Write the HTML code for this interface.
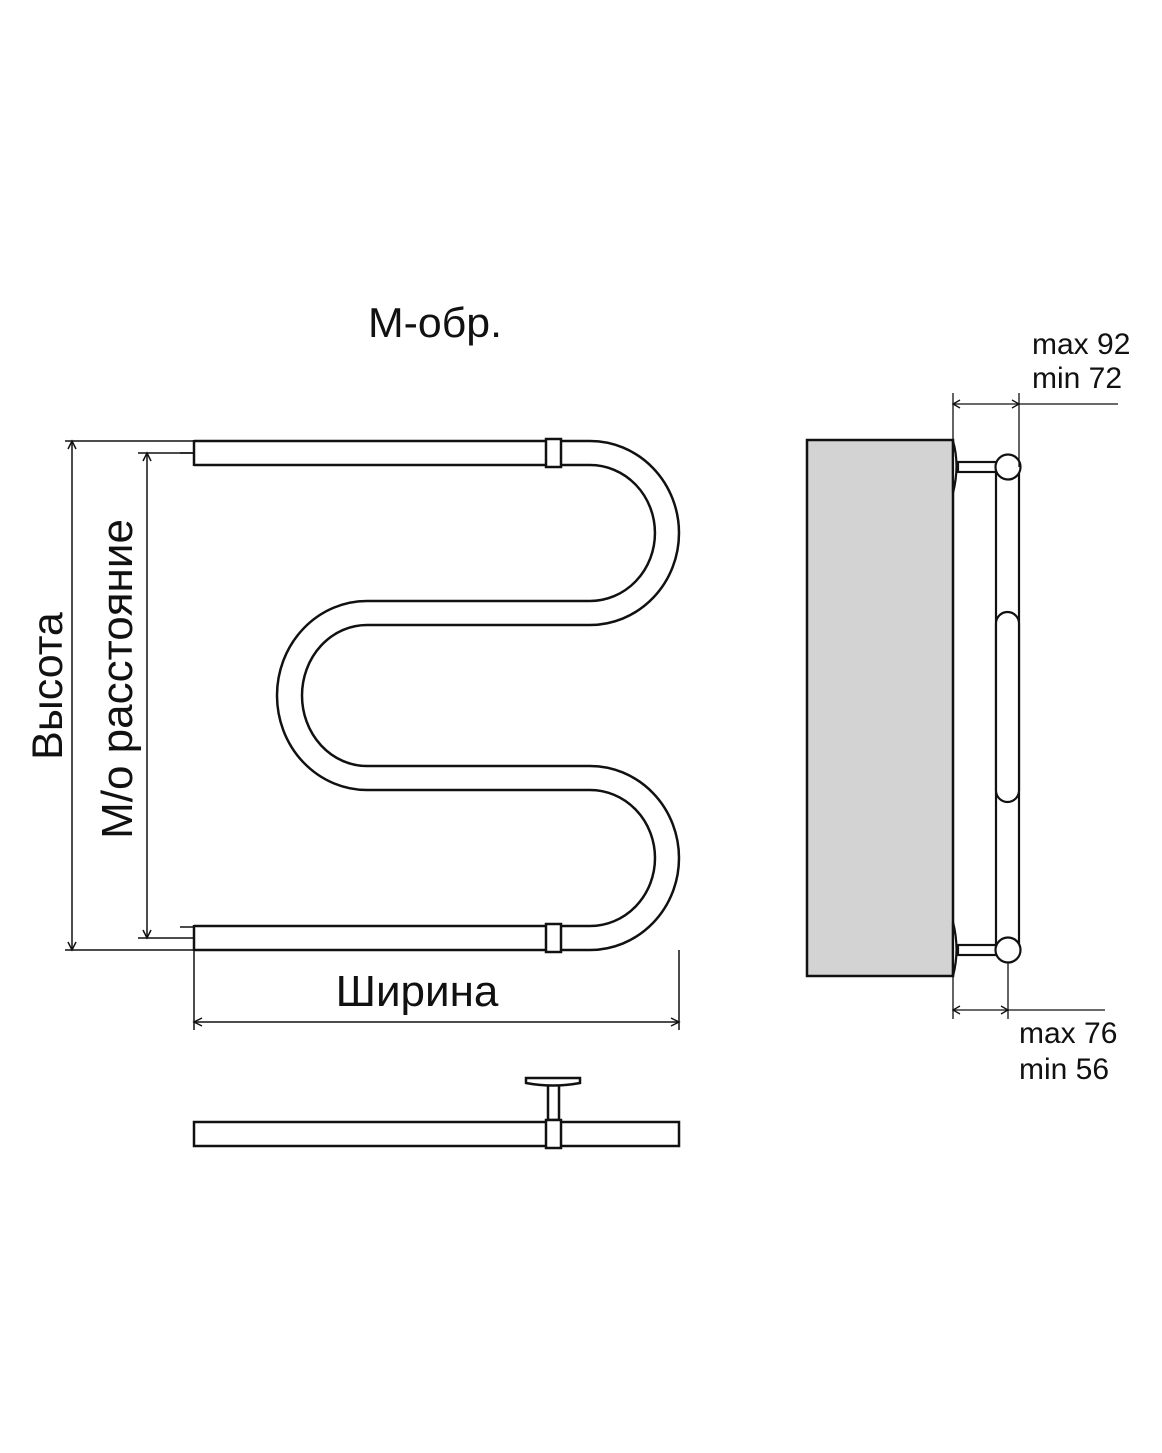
<!DOCTYPE html>
<html><head><meta charset="utf-8"><style>html,body{margin:0;padding:0;background:#fff}svg{display:block}</style></head>
<body>
<svg width="1162" height="1453" viewBox="0 0 1162 1453" xmlns="http://www.w3.org/2000/svg" font-family="Liberation Sans, Arial, sans-serif">
<rect width="1162" height="1453" fill="#fff"/>
<text x="368" y="337" font-size="42" textLength="134" lengthAdjust="spacingAndGlyphs" fill="#111">М-обр.</text>
<g fill="none" stroke="#111" stroke-width="2.5">
<path d="M194,441 H590 A89,92 0 0 1 590,625 H367 A65,70.5 0 0 0 367,766 H590 A89,92 0 0 1 590,950 H194"/>
<path d="M194,465 H590 A65,68 0 0 1 590,601 H367 A90,94.5 0 0 0 367,790 H590 A65,68 0 0 1 590,926 H194"/>
<line x1="194" y1="440" x2="194" y2="466"/>
<line x1="194" y1="925" x2="194" y2="951"/>
<rect x="546" y="439" width="15" height="28" fill="#fff"/>
<rect x="546" y="924" width="15" height="28" fill="#fff"/>
</g>
<g stroke="#111" stroke-width="1.5" fill="none">
<line x1="180" y1="453" x2="194" y2="453"/>
<line x1="180" y1="927" x2="194" y2="927"/>
<line x1="65" y1="441" x2="194" y2="441"/>
<line x1="65" y1="950" x2="194" y2="950"/>
<line x1="72" y1="441" x2="72" y2="950"/>
<path d="M68,449 L72,441 L76,449 M68,942 L72,950 L76,942"/>
<line x1="138" y1="453" x2="194" y2="453"/>
<line x1="138" y1="938" x2="194" y2="938"/>
<line x1="147" y1="453" x2="147" y2="938"/>
<path d="M143,461 L147,453 L151,461 M143,930 L147,938 L151,930"/>
<line x1="194" y1="950" x2="194" y2="1030"/>
<line x1="679" y1="950" x2="679" y2="1030"/>
<line x1="194" y1="1022" x2="679" y2="1022"/>
<path d="M202,1018 L194,1022 L202,1026 M671,1018 L679,1022 L671,1026"/>
</g>
<text transform="translate(62,686) rotate(-90)" text-anchor="middle" font-size="43" fill="#111">Высота</text>
<text transform="translate(132,679) rotate(-90)" text-anchor="middle" font-size="44" fill="#111">М/о расстояние</text>
<text x="417" y="1006" text-anchor="middle" font-size="44" fill="#111">Ширина</text>
<!-- bottom view -->
<g fill="#fff" stroke="#111" stroke-width="2.5">
<rect x="194" y="1122" width="485" height="24"/>
<rect x="548" y="1084" width="11" height="36"/>
<rect x="546" y="1120" width="15" height="28"/>
<path d="M526,1078 H580 V1083 Q553,1088 526,1083 Z"/>
</g>
<!-- side view -->
<rect x="807" y="440" width="146" height="536" fill="#d3d3d3" stroke="#111" stroke-width="2.5"/>
<g fill="#fff" stroke="#111" stroke-width="2.2">
<path d="M953,441 Q960,465 953,493 Z"/>
<path d="M953,922 Q960,950 953,976 Z"/>
<rect x="958" y="462" width="40" height="10"/>
<rect x="958" y="945" width="40" height="10"/>
<rect x="996" y="467" width="23" height="483"/>
<rect x="996" y="612" width="23" height="190" rx="11.5"/>
<circle cx="1008" cy="467" r="12.5"/>
<circle cx="1008" cy="950" r="12.5"/>
</g>
<g stroke="#111" stroke-width="1.3" fill="none">
<line x1="953" y1="393" x2="953" y2="440"/>
<line x1="1019" y1="393" x2="1019" y2="467"/>
<line x1="953" y1="404" x2="1118" y2="404"/>
<path d="M960,400 L953,404 L960,408 M1012,400 L1019,404 L1012,408"/>
<line x1="953" y1="976" x2="953" y2="1019"/>
<line x1="1008" y1="962" x2="1008" y2="1019"/>
<line x1="953" y1="1010" x2="1105" y2="1010"/>
<path d="M960,1006 L953,1010 L960,1014 M1001,1006 L1008,1010 L1001,1014"/>
</g>
<g font-size="30" fill="#111">
<text x="1032" y="354">max 92</text>
<text x="1032" y="388">min 72</text>
<text x="1019" y="1043">max 76</text>
<text x="1019" y="1079">min 56</text>
</g>
</svg>
</body></html>
